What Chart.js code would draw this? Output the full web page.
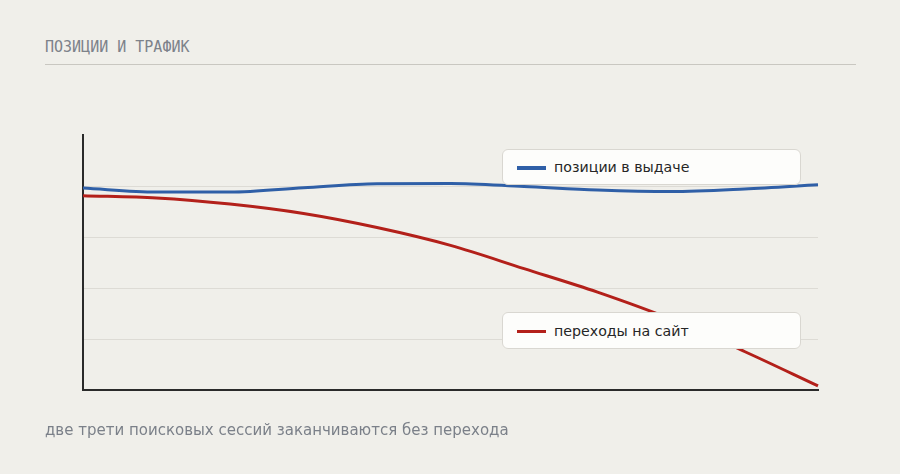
<!DOCTYPE html>
<html>
<head>
<meta charset="utf-8">
<script src="https://cdn.jsdelivr.net/npm/chart.js@4/dist/chart.umd.min.js"></script>
<style>
  html, body { margin: 0; padding: 0; }
  body { width: 900px; height: 474px; background: #f0efea; position: relative; overflow: hidden; font-family: "DejaVu Sans", sans-serif; }
  #title { position: absolute; left: 45px; top: 38px; font-family: "DejaVu Sans Mono", monospace; font-size: 15px; color: #7d828a; line-height: 18px; white-space: nowrap; }
  #rule { position: absolute; left: 45px; top: 64px; width: 811px; height: 0; border-top: 1.5px solid #c9c7c1; }
  #wrap { position: absolute; left: 0; top: 0; width: 900px; height: 474px; }
  .lg { position: absolute; left: 502px; width: 299px; background: #fdfdfb; border: 1px solid #d9d7d1; border-radius: 6px; box-sizing: border-box; }
  .lg .sw { position: absolute; left: 14px; width: 29px; height: 3.5px; }
  .lg .tx { position: absolute; left: 51px; font-size: 14.2px; color: #262626; white-space: nowrap; line-height: 16px; }
  #footer { position: absolute; left: 45px; top: 421px; font-size: 15px; color: #7b8089; white-space: nowrap; line-height: 18px; }
</style>
</head>
<body>
<div id="title">ПОЗИЦИИ И ТРАФИК</div>
<div id="rule"></div>
<div id="wrap"><canvas id="c"></canvas></div>
<div class="lg" id="lg1" style="top:149px;height:36px;"><div class="sw" style="top:16px;background:#2f5fa7;"></div><div class="tx" style="top:9px;">позиции в выдаче</div></div>
<div class="lg" id="lg2" style="top:312px;height:37px;"><div class="sw" style="top:16.5px;background:#b3201a;"></div><div class="tx" style="top:9.5px;">переходы на сайт</div></div>
<div id="footer">две трети поисковых сессий заканчиваются без перехода</div>
<script>
const categories = ['1','2','3','4','5','6','7','8','9','10','11'];
const seriesNames = ['позиции в выдаче', 'переходы на сайт'];
const positionsValues = [79.2, 77.6, 77.6, 79.3, 80.9, 81.0, 79.8, 78.4, 77.8, 78.8, 80.5];
const trafficValues = [76.2, 75.3, 72.9, 69.2, 63.7, 56.7, 47.6, 38.4, 27.8, 15.1, 1.6];
const yTicks = [0, 20, 40, 60, 80, 100];

new Chart(document.getElementById('c'), {
  type: 'line',
  data: {
    labels: categories,
    datasets: [
      { label: seriesNames[0], data: positionsValues, borderColor: '#2f5fa7', borderWidth: 3, pointRadius: 0, tension: 0.4, cubicInterpolationMode: 'monotone', fill: false },
      { label: seriesNames[1], data: trafficValues, borderColor: '#b3201a', borderWidth: 3, pointRadius: 0, tension: 0.4, cubicInterpolationMode: 'monotone', fill: false }
    ]
  },
  options: {
    responsive: true,
    maintainAspectRatio: false,
    animation: false,
    layout: { padding: { left: 83, right: 82, top: 135, bottom: 84 } },
    plugins: { legend: { display: false }, tooltip: { enabled: false } },
    scales: {
      x: {
        grid: { display: false, drawTicks: false },
        ticks: { display: false },
        border: { display: true, color: '#2a2a2a', width: 2 }
      },
      y: {
        min: yTicks[0], max: yTicks[yTicks.length - 1],
        afterBuildTicks: (s) => { s.ticks = yTicks.map(v => ({ value: v })); },
        grid: { drawTicks: false, color: (ctx) => (ctx.tick && (ctx.tick.value === 0 || ctx.tick.value === 100)) ? 'rgba(0,0,0,0)' : '#dddbd5', lineWidth: 1 },
        ticks: { display: false },
        border: { display: true, color: '#2a2a2a', width: 2 }
      }
    }
  }
});
</script>
</body>
</html>
